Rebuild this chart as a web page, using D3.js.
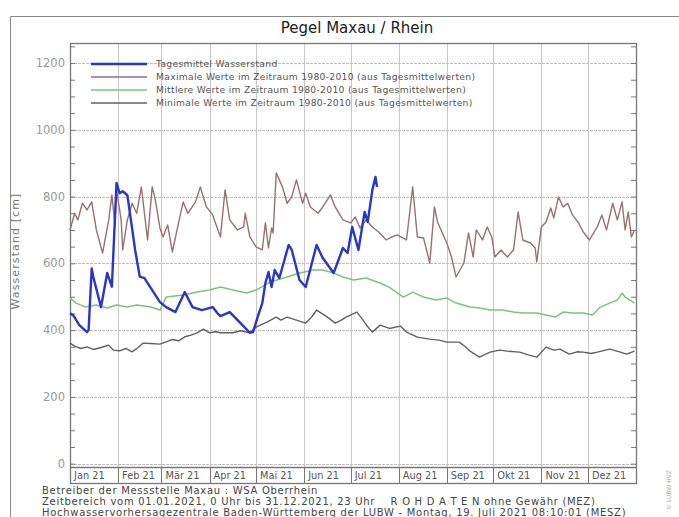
<!DOCTYPE html>
<html>
<head>
<meta charset="utf-8">
<script src="https://cdn.jsdelivr.net/npm/d3@7"></script>
<style>
  body { margin: 0; background: #fff; }
  svg { display: block; font-family: "DejaVu Sans", sans-serif; }
</style>
</head>
<body>
<div id="chart"></div>
<script>
/* Pegel Maxau / Rhein - day of year 2021 (0 = 1 Jan) and water level in cm */

var months = ["Jan 21", "Feb 21", "Mär 21", "Apr 21", "Mai 21", "Jun 21",
              "Jul 21", "Aug 21", "Sep 21", "Okt 21", "Nov 21", "Dez 21"];
var yTicks = [0, 200, 400, 600, 800, 1000, 1200];

// Tagesmittel Wasserstand 2021 (until 18 July)
var obsDays = [0, 2, 6, 11, 12, 14, 15, 20, 24, 27, 30, 32, 34, 37, 39, 42, 45, 48, 53, 58,
               62, 68, 74, 79, 85, 92, 95, 97, 103, 110, 116, 118, 121, 124, 126, 128, 130,
               132, 135, 141, 143, 148, 152, 159, 163, 170, 176, 179, 182, 186, 190, 192,
               195, 197, 198];
var obsVals = [450, 445, 415, 394, 400, 585, 560, 469, 571, 530, 841, 810, 816, 804, 739, 640,
               560, 556, 520, 484, 469, 454, 514, 469, 460, 469, 451, 442, 454, 421, 392, 394,
               439, 481, 541, 574, 529, 580, 556, 655, 640, 550, 529, 655, 616, 571, 646, 631,
               709, 640, 754, 724, 820, 859, 829];

// Maximale Werte 1980-2010
var maxDays = [0, 3, 5, 8, 11, 14, 17, 21, 25, 27, 29, 30, 33, 34, 37, 40, 43, 46, 48, 50, 53,
               55, 58, 60, 63, 66, 70, 73, 76, 81, 84, 88, 92, 97, 100, 103, 108, 112, 113,
               116, 120, 124, 126, 128, 130, 131, 133, 137, 140, 143, 146, 150, 152, 155, 160,
               163, 168, 171, 176, 181, 184, 187, 191, 195, 199, 204, 206, 211, 217, 221, 224,
               228, 232, 235, 237, 243, 246, 249, 254, 257, 260, 262, 266, 269, 272, 274, 278,
               282, 286, 289, 292, 297, 300, 301, 304, 307, 310, 312, 315, 318, 321, 324, 328,
               331, 335, 340, 343, 346, 350, 353, 356, 358, 360, 362, 364];
var maxVals = [700, 750, 730, 780, 760, 784, 700, 631, 730, 805, 715, 820, 730, 640, 730, 780,
               750, 829, 750, 670, 829, 790, 706, 679, 715, 634, 721, 784, 750, 784, 829, 769,
               745, 679, 820, 730, 700, 709, 750, 679, 649, 640, 721, 646, 706, 691, 871, 829,
               780, 799, 850, 780, 810, 769, 750, 769, 805, 769, 730, 721, 739, 706, 730, 709,
               694, 670, 676, 685, 670, 829, 679, 676, 601, 769, 724, 661, 619, 559, 601, 691,
               619, 700, 670, 709, 679, 619, 640, 619, 640, 754, 670, 661, 646, 604, 709, 724,
               766, 736, 799, 769, 780, 745, 721, 694, 670, 709, 745, 700, 780, 730, 784, 700,
               754, 679, 700];

// Mittlere Werte 1980-2010
var meanDays = [0, 4, 10, 17, 24, 30, 37, 43, 52, 58, 62, 73, 82, 90, 97, 105, 114, 120, 129,
                140, 148, 157, 163, 170, 176, 183, 191, 198, 200, 206, 215, 221, 228, 236, 243,
                249, 258, 264, 271, 279, 286, 292, 301, 307, 313, 318, 324, 331, 337, 342, 348,
                353, 356, 358, 361, 364];
var meanVals = [496, 481, 469, 475, 466, 475, 469, 475, 469, 460, 499, 505, 514, 520, 529, 520,
                511, 520, 544, 559, 571, 580, 580, 571, 559, 550, 556, 544, 541, 528, 499, 514,
                499, 490, 496, 481, 469, 466, 460, 460, 454, 451, 451, 445, 439, 454, 451, 451,
                445, 469, 481, 490, 511, 499, 490, 481];

// Minimale Werte 1980-2010
var minDays = [0, 3, 7, 11, 15, 20, 25, 28, 32, 36, 40, 44, 47, 52, 58, 62, 66, 70, 74, 78, 82,
               86, 90, 94, 97, 105, 110, 116, 120, 124, 127, 133, 136, 140, 146, 152, 156, 159,
               163, 166, 171, 175, 178, 185, 189, 192, 195, 200, 206, 213, 217, 224, 232, 238,
               243, 251, 255, 258, 264, 271, 277, 282, 290, 296, 301, 307, 312, 316, 322, 327,
               331, 336, 340, 348, 355, 359, 364];
var minVals = [361, 352, 345, 350, 342, 348, 355, 340, 338, 345, 335, 348, 361, 360, 358, 365,
               372, 368, 380, 385, 392, 403, 392, 395, 392, 392, 398, 392, 409, 418, 424, 439,
               430, 439, 430, 421, 440, 460, 448, 439, 421, 430, 439, 454, 430, 410, 394, 415,
               405, 412, 394, 379, 373, 370, 364, 364, 350, 337, 319, 334, 340, 337, 334, 325,
               319, 349, 340, 343, 328, 335, 334, 330, 334, 343, 334, 328, 337];

var legendLabels = ["Tagesmittel Wasserstand",
                    "Maximale Werte im Zeitraum 1980-2010 (aus Tagesmittelwerten)",
                    "Mittlere Werte im Zeitraum 1980-2010 (aus Tagesmittelwerten)",
                    "Minimale Werte im Zeitraum 1980-2010 (aus Tagesmittelwerten)"];
var legendColors = ["#2a36c8", "#a06a7c", "#7cc47c", "#606060"];

var footerLines = ["Betreiber der Messstelle Maxau : WSA Oberrhein",
                   "Zeitbereich vom 01.01.2021, 0 Uhr bis 31.12.2021, 23 Uhr    R O H D A T E N ohne Gewähr (MEZ)",
                   "Hochwasservorhersagezentrale Baden-Württemberg der LUBW - Montag, 19. Juli 2021 08:10:01 (MESZ)"];

/* zip day + value arrays into point objects */
function toPoints(days, vals) {
    return days.map(function(d, i) {
        return {date: new Date(2021, 0, 1 + d), v: vals[i]};
    });
}

function drawChart() {
    var W = 679, H = 517;
    var pLeft = 70, pRight = 636, pTop = 43, pBottom = 467, band = 16;

    var svg = d3.select("#chart").append("svg")
        .attr("width", W)
        .attr("height", H);

    svg.append("rect").attr("width", W).attr("height", H).attr("fill", "#fff");

    // outer frame
    svg.append("path")
        .attr("d", "M10.5," + H + "V16.5H" + W)
        .attr("fill", "none")
        .attr("stroke", "#8a8a8a");

    var x = d3.scaleTime()
        .domain([new Date(2021, 0, 1), new Date(2022, 0, 1)])
        .range([pLeft, pRight]);

    var y = d3.scaleLinear()
        .domain([-10, 1260])
        .range([pBottom, pTop]);

    var monthStarts = d3.timeMonth.range(new Date(2021, 0, 1), new Date(2022, 0, 1));

    // vertical month grid
    svg.append("g").selectAll("line")
        .data(monthStarts.slice(1))
        .enter().append("line")
        .attr("x1", function(d) { return Math.round(x(d)) + 0.5; })
        .attr("x2", function(d) { return Math.round(x(d)) + 0.5; })
        .attr("y1", pTop)
        .attr("y2", pBottom + band)
        .attr("stroke", "#c8c8c8");

    // horizontal grid (dotted)
    svg.append("g").selectAll("line")
        .data(yTicks)
        .enter().append("line")
        .attr("x1", pLeft)
        .attr("x2", pRight)
        .attr("y1", function(d) { return Math.round(y(d)) + 0.5; })
        .attr("y2", function(d) { return Math.round(y(d)) + 0.5; })
        .attr("stroke", "#bdbdbd")
        .attr("stroke-dasharray", "3,1");

    // minor ticks every 50 cm, inside on both sides
    var minor = d3.range(0, 1251, 50);
    var yAxisL = d3.axisRight(y).tickValues(minor).tickSize(5).tickFormat("");
    var yAxisR = d3.axisLeft(y).tickValues(minor).tickSize(5).tickFormat("");
    svg.append("g").attr("transform", "translate(" + pLeft + ",0)").call(yAxisL)
        .call(function(g) { g.select(".domain").remove(); })
        .selectAll("line").attr("stroke", "#777");
    svg.append("g").attr("transform", "translate(" + pRight + ",0)").call(yAxisR)
        .call(function(g) { g.select(".domain").remove(); })
        .selectAll("line").attr("stroke", "#777");

    // y labels
    svg.append("g").selectAll("text")
        .data(yTicks)
        .enter().append("text")
        .attr("x", 65)
        .attr("y", function(d) { return y(d) + 4; })
        .attr("text-anchor", "end")
        .attr("font-size", 11.5)
        .attr("fill", "#999")
        .text(function(d) { return d; });

    svg.append("text")
        .attr("transform", "translate(19,251) rotate(-90)")
        .attr("text-anchor", "middle")
        .attr("font-size", 11)
        .attr("letter-spacing", 1.1)
        .attr("fill", "#777")
        .text("Wasserstand [cm]");

    // plot frame + month band
    svg.append("rect")
        .attr("x", pLeft + 0.5).attr("y", pTop + 0.5)
        .attr("width", pRight - pLeft).attr("height", pBottom + band - pTop)
        .attr("fill", "none")
        .attr("stroke", "#777")
        .attr("stroke-width", 1.3);
    svg.append("line")
        .attr("x1", pLeft).attr("x2", pRight)
        .attr("y1", pBottom + 0.5).attr("y2", pBottom + 0.5)
        .attr("stroke", "#777")
        .attr("stroke-width", 1.3);
    svg.append("g").selectAll("line")
        .data(monthStarts.slice(1))
        .enter().append("line")
        .attr("x1", function(d) { return Math.round(x(d)) + 0.5; })
        .attr("x2", function(d) { return Math.round(x(d)) + 0.5; })
        .attr("y1", pBottom)
        .attr("y2", pBottom + band)
        .attr("stroke", "#777");

    svg.append("g").selectAll("text")
        .data(monthStarts)
        .enter().append("text")
        .attr("x", function(d) { return x(d) + 4; })
        .attr("y", pBottom + 12)
        .attr("font-size", 9.8)
        .attr("fill", "#555")
        .text(function(d, i) { return months[i]; });

    // title
    svg.append("text")
        .attr("x", 357)
        .attr("y", 33)
        .attr("text-anchor", "middle")
        .attr("font-size", 15)
        .attr("fill", "#222")
        .text("Pegel Maxau / Rhein");

    // series
    var line = d3.line()
        .x(function(d) { return x(d.date); })
        .y(function(d) { return y(d.v); });

    var series = [
        {pts: toPoints(minDays, minVals), color: "#606060", w: 1.4},
        {pts: toPoints(meanDays, meanVals), color: "#7cc47c", w: 1.5},
        {pts: toPoints(maxDays, maxVals), color: "#9a7070", w: 1.4},
        {pts: toPoints(obsDays, obsVals), color: "#2a36c8", w: 2.4}
    ];
    series.forEach(function(s) {
        svg.append("path")
            .datum(s.pts)
            .attr("d", line)
            .attr("fill", "none")
            .attr("stroke", s.color)
            .attr("stroke-width", s.w)
            .attr("stroke-linejoin", "round");
    });

    // legend
    var lg = svg.append("g");
    legendLabels.forEach(function(t, i) {
        var ly = 64 + i * 13;
        lg.append("line")
            .attr("x1", 91).attr("x2", 147)
            .attr("y1", ly).attr("y2", ly)
            .attr("stroke", legendColors[i])
            .attr("stroke-width", i === 0 ? 2.4 : 1.3);
        lg.append("text")
            .attr("x", 156)
            .attr("y", ly + 3)
            .attr("font-size", 9.2)
            .attr("letter-spacing", 0.3)
            .attr("fill", "#555")
            .text(t);
    });

    // footer
    svg.append("g").selectAll("text")
        .data(footerLines)
        .enter().append("text")
        .attr("x", 42)
        .attr("y", function(d, i) { return 494 + i * 11; })
        .attr("font-size", 10)
        .attr("letter-spacing", 0.7)
        .attr("fill", "#444")
        .attr("xml:space", "preserve")
        .style("white-space", "pre")
        .text(function(d) { return d; });

    // small rotated note on the right margin
    svg.append("text")
        .attr("transform", "translate(671,490) rotate(-90)")
        .attr("text-anchor", "middle")
        .attr("font-size", 6)
        .attr("fill", "#aaa")
        .text("© LUBW   HVZ");
}

drawChart();
</script>
</body>
</html>
